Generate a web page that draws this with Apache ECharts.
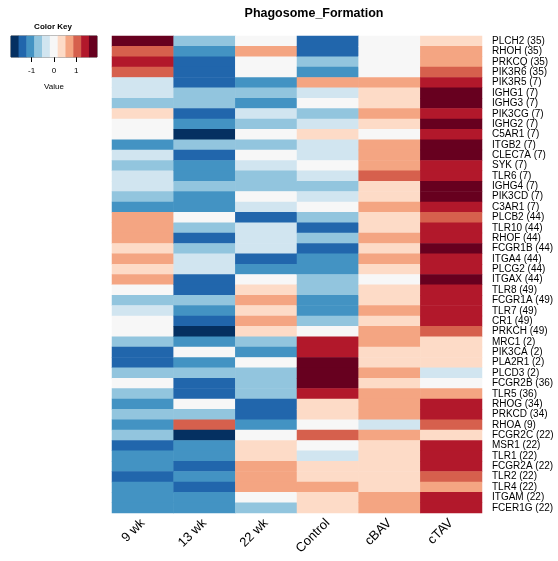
<!DOCTYPE html>
<html>
<head>
<meta charset="utf-8">
<script src="https://cdn.jsdelivr.net/npm/echarts@6/dist/echarts.min.js"></script>
<style>
  html, body { margin: 0; padding: 0; background: #fff; }
  #chart { width: 558px; height: 561px; }
</style>
</head>
<body>
<div id="chart"></div>
<script>
// Column groups (x categories)
const groups = ['9 wk', '13 wk', '22 wk', 'Control', 'cBAV', 'cTAV'];

// Genes (rows, top to bottom)
const genes = [
  'PLCH2 (35)', 'RHOH (35)', 'PRKCQ (35)', 'PIK3R6 (35)', 'PIK3R5 (7)', 'IGHG1 (7)',
  'IGHG3 (7)', 'PIK3CG (7)', 'IGHG2 (7)', 'C5AR1 (7)', 'ITGB2 (7)', 'CLEC7A (7)',
  'SYK (7)', 'TLR6 (7)', 'IGHG4 (7)', 'PIK3CD (7)', 'C3AR1 (7)', 'PLCB2 (44)',
  'TLR10 (44)', 'RHOF (44)', 'FCGR1B (44)', 'ITGA4 (44)', 'PLCG2 (44)', 'ITGAX (44)',
  'TLR8 (49)', 'FCGR1A (49)', 'TLR7 (49)', 'CR1 (49)', 'PRKCH (49)', 'MRC1 (2)',
  'PIK3CA (2)', 'PLA2R1 (2)', 'PLCD3 (2)', 'FCGR2B (36)', 'TLR5 (36)', 'RHOG (34)',
  'PRKCD (34)', 'RHOA (9)', 'FCGR2C (22)', 'MSR1 (22)', 'TLR1 (22)', 'FCGR2A (22)',
  'TLR2 (22)', 'TLR4 (22)', 'ITGAM (22)', 'FCER1G (22)'
];

// Scaled expression values per group, one entry per gene
const wk9 = [1.75, 1.05, 1.4, 1.05, -0.35, -0.35, -0.7, 0.35, 0, 0, -1.05, -0.35, -0.7, -0.35, -0.35, -0.7, -1.05, 0.7, 0.7, 0.7, 0.35, 0.7, 0.35, 0.7, 0, -0.7, -0.35, 0, 0, -0.7, -1.4, -1.4, -0.7, 0, -0.7, -1.05, -0.7, -1.05, -0.7, -1.4, -1.05, -1.05, -1.4, -1.05, -1.05, -1.05];
const wk13 = [-0.7, -1.05, -1.4, -1.4, -1.4, -0.7, -0.7, -1.4, -1.05, -1.75, -0.7, -1.4, -1.05, -1.05, -0.7, -1.05, -1.05, 0, -0.7, -1.4, -0.7, -0.35, -0.35, -1.4, -1.4, -0.7, -1.05, -1.4, -1.75, -1.05, 0, -1.05, -0.7, -1.4, -1.4, 0, -0.7, 1.05, -1.75, -1.05, -1.05, -1.4, -1.05, -1.4, -1.05, -1.05];
const wk22 = [0, 0.7, 0, 0, -1.05, -0.7, -1.05, -0.35, -0.7, 0, -0.7, 0, -0.35, -0.7, -0.7, 0, -0.35, -1.4, -0.35, -0.35, -0.35, -1.4, -1.05, 0, 0.35, 0.7, 0.35, 0.7, 0.35, -0.7, -1.05, 0, -0.7, -0.7, -0.7, -1.4, -1.4, -1.05, 0, 0.35, 0.35, 0.7, 0.7, 0.7, 0, -0.7];
const control = [-1.4, -1.4, -0.7, -1.05, 0.7, -0.35, 0, -0.7, -0.35, 0.35, -0.35, -0.35, 0, -0.35, -0.7, -0.35, 0, -0.7, -1.4, -0.7, -1.4, -1.05, -1.05, -0.7, -0.7, -1.05, -1.05, -0.7, 0, 1.4, 1.4, 1.75, 1.75, 1.75, 1.4, 0.35, 0.35, 0, 1.05, 0, -0.35, 0.35, 0.35, 0.7, 0.35, 0.35];
const cBAV = [0, 0, 0, 0, 0.7, 0.35, 0.35, 0.7, 0.35, 0, 0.7, 0.7, 0.7, 1.05, 0.35, 0.35, 0.7, 0.35, 0.35, 0.7, 0.35, 0.7, 0.35, 0, 0.35, 0.35, 0.7, 0.35, 0.7, 0.7, 0.35, 0.35, 0.7, 0.35, 0.7, 0.7, 0.7, -0.35, 0.7, 0.35, 0.35, 0.35, 0.35, 0.35, 0.7, 0.7];
const cTAV = [0.35, 0.7, 0.7, 1.05, 1.4, 1.75, 1.75, 1.4, 1.75, 1.4, 1.75, 1.75, 1.4, 1.4, 1.75, 1.75, 1.4, 1.05, 1.4, 1.4, 1.75, 1.4, 1.4, 1.75, 1.4, 1.4, 1.4, 1.4, 1.05, 0.35, 0.35, 0.35, -0.35, 0, 0.7, 1.4, 1.4, 1.05, 0.35, 1.4, 1.4, 1.4, 1.05, 0.7, 1.4, 1.4];

// Colour key: 11 bins from blue to red
const palette = ['#053061', '#2166ac', '#4393c3', '#92c5de', '#d1e5f0', '#f7f7f7',
                 '#fddbc7', '#f4a582', '#d6604d', '#b2182b', '#67001f'];
const binWidth = 0.35;
const keyTicks = [-1, 0, 1];

const columns = [wk9, wk13, wk22, control, cBAV, cTAV];
const heatData = [];
columns.forEach((col, ci) => {
  col.forEach((v, ri) => heatData.push([ci, ri, v]));
});

const keyBins = palette.map((_, i) => i);
const keyData = keyBins.map(i => [i, 0, (i - 5) * binWidth]);
const keyHalf = binWidth * palette.length / 2;

const pieces = palette.map((c, i) => ({
  gte: (i - 5.5) * binWidth - (i === 0 ? 10 : 0),
  lt: (i - 4.5) * binWidth + (i === palette.length - 1 ? 10 : 0),
  color: c
}));

const FONT = '"Liberation Sans", Arial, Helvetica, sans-serif';

const chart = echarts.init(document.getElementById('chart'), null, { renderer: 'canvas' });
chart.setOption({
  animation: false,
  backgroundColor: '#ffffff',
  textStyle: { fontFamily: FONT },
  graphic: [
    { type: 'text', x: 314, y: 14,
      style: { text: 'Phagosome_Formation', align: 'center', verticalAlign: 'middle',
               font: 'bold 12.5px ' + FONT, fill: '#000' } },
    { type: 'text', x: 53, y: 27,
      style: { text: 'Color Key', align: 'center', verticalAlign: 'middle',
               font: 'bold 8px ' + FONT, fill: '#000' } }
  ],
  grid: [
    { left: 112, top: 36, width: 370, height: 477 },
    { left: 11, top: 36, width: 86, height: 21, show: true, borderColor: '#555', borderWidth: 1, backgroundColor: 'transparent' }
  ],
  xAxis: [
    { type: 'category', gridIndex: 0, data: groups, position: 'bottom',
      axisLine: { show: false }, axisTick: { show: false }, splitLine: { show: false },
      axisLabel: { rotate: 45, interval: 0, fontSize: 13, margin: 8, color: '#000', fontFamily: FONT } },
    { type: 'category', gridIndex: 1, data: keyBins, show: false },
    { type: 'value', gridIndex: 1, min: -keyHalf, max: keyHalf, position: 'bottom',
      axisLine: { show: false }, splitLine: { show: false },
      axisTick: { show: true, length: 5, customValues: keyTicks, lineStyle: { color: '#000', width: 1 } },
      axisLabel: { customValues: keyTicks, fontSize: 8, margin: 10, color: '#000', fontFamily: FONT },
      name: 'Value', nameLocation: 'middle', nameGap: 26,
      nameTextStyle: { fontSize: 8, color: '#000', fontFamily: FONT } }
  ],
  yAxis: [
    { type: 'category', gridIndex: 0, data: genes, inverse: true, position: 'right',
      axisLine: { show: false }, axisTick: { show: false }, splitLine: { show: false },
      axisLabel: { interval: 0, fontSize: 10, margin: 10, color: '#000', fontFamily: FONT } },
    { type: 'category', gridIndex: 1, data: ['key'], show: false }
  ],
  visualMap: {
    type: 'piecewise', show: false, dimension: 2, seriesIndex: [0, 1], pieces: pieces
  },
  series: [
    { type: 'heatmap', xAxisIndex: 0, yAxisIndex: 0, data: heatData,
      itemStyle: { borderWidth: 0 }, emphasis: { disabled: true } },
    { type: 'heatmap', xAxisIndex: 1, yAxisIndex: 1, data: keyData,
      itemStyle: { borderWidth: 0 }, emphasis: { disabled: true } }
  ]
});
</script>
</body>
</html>
